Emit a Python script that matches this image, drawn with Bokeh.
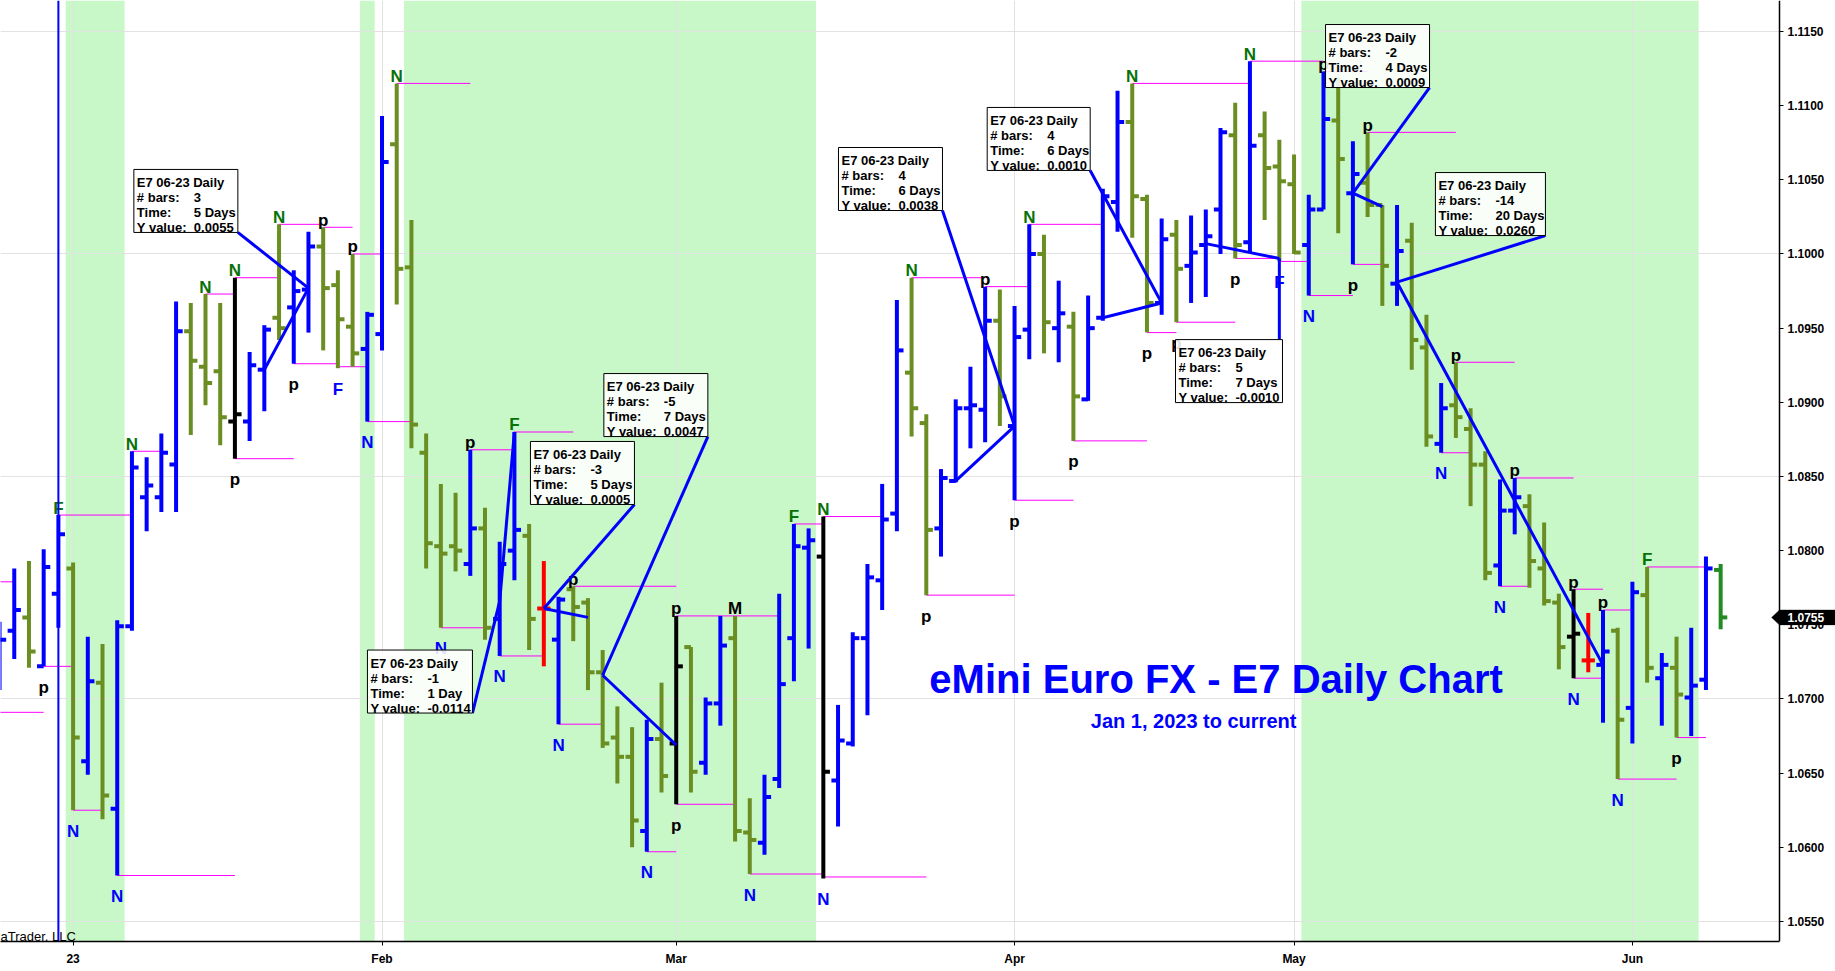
from bokeh.plotting import figure
from bokeh.models import (FixedTicker, Range1d, BoxAnnotation, Span, Label,
                          ColumnDataSource, PolyAnnotation, PrintfTickFormatter)
from bokeh.embed import file_html
from bokeh.resources import INLINE
from bokeh.core.properties import value

FONT = "Liberation Sans"

# ---------------- data (bar index 0 = Jan 3 2023, daily bars) ----------------
first_bar = -5
opens = [1.0728, 1.0746, 1.0755, 1.0722, 1.0771,
         1.0788, 1.0658, 1.0711, 1.0626, 1.0749, 1.0836, 1.0836, 1.0858, 1.0948, 1.0924,
         1.0921, 1.0887, 1.0887, 1.0922, 1.0957, 1.0964, 1.0976, 1.1005, 1.0979, 1.0951,
         1.0936, 1.0946, 1.1074, 1.0991, 1.0866, 1.0803, 1.0803, 1.0791, 1.0815, 1.0754,
         1.0800, 1.0810, 1.0761, 1.0740, 1.0774, 1.0765, 1.0718, 1.0674, 1.0661, 1.0611,
         1.0673, 1.0670, 1.0735, 1.0657, 1.0697, 1.0741, 1.0610, 1.0603, 1.0646, 1.0741,
         1.0802, 1.0796, 1.0645, 1.0670, 1.0741, 1.0780, 1.0825, 1.0920, 1.0886, 1.0815,
         1.0847, 1.0896, 1.0895, 1.0955, 1.0884, 1.0949, 1.1000, 1.0950, 1.0951, 1.0902,
         1.0957, 1.1035, 1.1089, 1.1037, 1.0967, 1.1013, 1.0992, 1.1006, 1.1030, 1.1080,
         1.1008, 1.1080, 1.1059, 1.1047, 1.1006, 1.1030, 1.1090, 1.1041, 1.1048, 1.1033,
         1.0980, 1.1009, 1.0937, 1.0872, 1.0898, 1.0882, 1.0858, 1.0790, 1.0827, 1.0830,
         1.0788, 1.0765, 1.0742, 1.0726, 1.0723, 1.0746, 1.0694, 1.0770, 1.0714, 1.0721,
         1.0701, 1.0713, 1.0787]
highs = [1.0752, 1.0788, 1.0793, 1.0801, 1.0824,
         1.0792, 1.0742, 1.0737, 1.0753, 1.0867, 1.0863, 1.0879, 1.0968, 1.0967, 1.0973,
         1.0967, 1.0984, 1.0934, 1.0952, 1.1020, 1.0989, 1.1015, 1.1018, 1.0989, 1.1000,
         1.0961, 1.1093, 1.1115, 1.1023, 1.0879, 1.0845, 1.0839, 1.0868, 1.0829, 1.0806,
         1.0880, 1.0818, 1.0793, 1.0769, 1.0776, 1.0768, 1.0733, 1.0695, 1.0681, 1.0686,
         1.0711, 1.0756, 1.0735, 1.0701, 1.0756, 1.0756, 1.0633, 1.0649, 1.0771, 1.0818,
         1.0815, 1.0823, 1.0696, 1.0745, 1.0791, 1.0845, 1.0969, 1.0984, 1.0892, 1.0855,
         1.0902, 1.0924, 1.0978, 1.0976, 1.0965, 1.1020, 1.1013, 1.0982, 1.0961, 1.0972,
         1.1044, 1.1110, 1.1115, 1.1040, 1.1024, 1.1023, 1.1026, 1.1030, 1.1085, 1.1102,
         1.1130, 1.1096, 1.1077, 1.1067, 1.1040, 1.1123, 1.1119, 1.1076, 1.1082, 1.1033,
         1.1033, 1.1021, 1.0959, 1.0913, 1.0927, 1.0896, 1.0867, 1.0848, 1.0849, 1.0838,
         1.0819, 1.0771, 1.0774, 1.0758, 1.0760, 1.0748, 1.0779, 1.0789, 1.0731, 1.0742,
         1.0748, 1.0796, 1.0791]
lows = [1.0706, 1.0727, 1.0721, 1.0722, 1.0748,
        1.0625, 1.0649, 1.0619, 1.0581, 1.0746, 1.0813, 1.0826, 1.0826, 1.0878, 1.0898,
        1.0871, 1.0862, 1.0874, 1.0894, 1.0942, 1.0926, 1.0947, 1.0935, 1.0923, 1.0924,
        1.0887, 1.0935, 1.0966, 1.0869, 1.0788, 1.0748, 1.0786, 1.0783, 1.0740, 1.0729,
        1.0780, 1.0733, 1.0722, 1.0683, 1.0739, 1.0706, 1.0667, 1.0643, 1.0600, 1.0597,
        1.0637, 1.0629, 1.0637, 1.0649, 1.0682, 1.0604, 1.0582, 1.0595, 1.0640, 1.0712,
        1.0734, 1.0579, 1.0614, 1.0668, 1.0689, 1.0760, 1.0813, 1.0877, 1.0770, 1.0796,
        1.0846, 1.0869, 1.0873, 1.0884, 1.0834, 1.0929, 1.0933, 1.0927, 1.0874, 1.0901,
        1.0955, 1.1015, 1.1011, 1.0947, 1.0959, 1.0954, 1.0967, 1.0971, 1.1000, 1.0997,
        1.1001, 1.1023, 1.0995, 1.1000, 1.0972, 1.1030, 1.1014, 1.0993, 1.1025, 1.0965,
        1.0965, 1.0922, 1.0870, 1.0866, 1.0876, 1.0830, 1.0780, 1.0776, 1.0811, 1.0775,
        1.0763, 1.0720, 1.0714, 1.0718, 1.0684, 1.0646, 1.0670, 1.0711, 1.0682, 1.0674,
        1.0675, 1.0706, 1.0747]
closes = [1.0740, 1.0760, 1.0732, 1.0789, 1.0811,
          1.0674, 1.0712, 1.0635, 1.0749, 1.0856, 1.0844, 1.0866, 1.0948, 1.0928, 1.0913,
          1.0890, 1.0892, 1.0925, 1.0949, 1.0950, 1.0975, 1.1005, 1.0977, 1.0956, 1.0933,
          1.0959, 1.1062, 1.0990, 1.0885, 1.0805, 1.0798, 1.0800, 1.0815, 1.0748, 1.0791,
          1.0814, 1.0754, 1.0761, 1.0767, 1.0762, 1.0718, 1.0670, 1.0661, 1.0618, 1.0673,
          1.0648, 1.0722, 1.0651, 1.0697, 1.0736, 1.0611, 1.0605, 1.0634, 1.0710, 1.0803,
          1.0807, 1.0651, 1.0672, 1.0741, 1.0782, 1.0821, 1.0935, 1.0896, 1.0814, 1.0849,
          1.0896, 1.0898, 1.0955, 1.0904, 1.0944, 1.1000, 1.0954, 1.0960, 1.0904, 1.0950,
          1.1039, 1.1089, 1.1039, 1.0967, 1.1010, 1.0990, 1.1001, 1.1012, 1.1082, 1.1006,
          1.1073, 1.1058, 1.1049, 1.1001, 1.1030, 1.1091, 1.1064, 1.1054, 1.1033, 1.0992,
          1.1002, 1.0942, 1.0877, 1.0896, 1.0890, 1.0858, 1.0785, 1.0827, 1.0836, 1.0793,
          1.0766, 1.0735, 1.0744, 1.0726, 1.0732, 1.0686, 1.0772, 1.0721, 1.0723, 1.0703,
          1.0709, 1.0788, 1.0755]
black_bars = [11, 41, 51, 102]
red_bars = [32, 103]
last_price = 1.0755

tick_idx = [0, 21, 41, 64, 83, 106]
tick_lbl = ["23", "Feb", "Mar", "Apr", "May", "Jun"]
price_ticks = [1.0550, 1.0600, 1.0650, 1.0700, 1.0750, 1.0800, 1.0850,
               1.0900, 1.0950, 1.1000, 1.1050, 1.1100, 1.1150]
grid_prices = [1.0550, 1.0700, 1.0850, 1.1000, 1.1150]

shade_start = [-0.5, 19.5, 22.5, 83.5]
shade_end = [3.5, 20.5, 50.5, 110.5]
marker_line_bar = -1

# swing lines: start bar, end bar, price
swing_start = [-6, -6, -2, -1, 0, 3, 4, 9, 11, 11, 14, 17, 15, 18, 19, 20, 22, 25, 27, 29,
               30, 33, 34, 39, 41, 41, 46, 49, 51, 51, 57, 58, 62, 64, 65, 68, 72, 73, 75,
               79, 80, 82, 84, 85, 87, 88, 93, 94, 97, 98, 102, 102, 104, 105, 107, 109]
swing_end = [-4, -2, 0, 4, 2, 11, 6, 11, 14, 15, 17, 19, 18, 20, 21, 23, 27, 28, 30, 32,
             34, 36, 41, 41, 48, 45, 51, 51, 55, 58, 62, 64, 65, 68, 70, 73, 80, 75, 79,
             82, 85, 84, 87, 88, 89, 94, 95, 98, 99, 102, 104, 104, 106, 109, 111, 111]
swing_price = [1.0779, 1.0691, 1.0722, 1.0824, 1.0625, 1.0581, 1.0867, 1.0973, 1.0984,
               1.0862, 1.1020, 1.1018, 1.0926, 1.0924, 1.1000, 1.0887, 1.1115, 1.0748,
               1.0868, 1.0729, 1.0880, 1.0683, 1.0776, 1.0597, 1.0756, 1.0629, 1.0582,
               1.0818, 1.0823, 1.0580, 1.0984, 1.0770, 1.0978, 1.0834, 1.1020, 1.0874,
               1.1115, 1.0947, 1.0954, 1.0997, 1.1130, 1.0995, 1.0972, 1.1123, 1.0993,
               1.1082, 1.0866, 1.0927, 1.0776, 1.0849, 1.0774, 1.0714, 1.0760, 1.0646,
               1.0789, 1.0674]

above_bar = [-1, 4, 9, 11, 14, 17, 19, 22, 27, 30, 34, 41, 45, 49, 51, 57, 62, 65, 72,
             80, 85, 88, 94, 98, 102, 104, 107]
above_txt = ["F", "N", "N", "N", "N", "p", "p", "N", "p", "F", "p", "p", "M", "F", "N",
             "N", "p", "N", "N", "N", "p", "p", "p", "p", "p", "p", "F"]
below_bar = [-2, 0, 3, 11, 15, 18, 20, 25, 29, 33, 39, 41, 46, 51, 58, 64, 68, 73, 75,
             79, 82, 84, 87, 93, 97, 102, 105, 109]
below_txt = ["p", "N", "N", "p", "p", "F", "N", "N", "N", "N", "N", "p", "N", "N", "p",
             "p", "p", "p", "p", "p", "F", "N", "p", "N", "N", "N", "N", "p"]

meas_a_bar = [13, 30, 35, 41, 60, 70, 77, 89, 104]
meas_a_px = [1.0922, 1.0880, 1.0755, 1.0669, 1.0847, 1.0957, 1.1007, 1.1032, 1.0723]
meas_b_bar = [16, 29, 32, 36, 64, 74, 82, 87, 90]
meas_b_px = [1.0977, 1.0766, 1.0761, 1.0716, 1.0884, 1.0967, 1.0997, 1.1041, 1.0981]
meas_bars = ["3", "-1", "-3", "-5", "4", "4", "5", "-2", "-14"]
meas_time = ["5 Days", "1 Day", "5 Days", "7 Days", "6 Days", "6 Days", "7 Days",
             "4 Days", "20 Days"]
meas_yval = ["0.0055", "-0.0114", "0.0005", "0.0047", "0.0038", "0.0010", "-0.0010",
             "0.0009", "0.0260"]
box_left = [4.13, 20.01, 31.09, 36.08, 52.03, 62.14, 74.94, 85.14, 92.61]
box_top = [1.10570, 1.07330, 1.08736, 1.09194, 1.10718, 1.10988, 1.09423, 1.11547, 1.10549]
box_hdr = "E7 06-23 Daily"

title_text = "eMini Euro FX - E7 Daily Chart"
subtitle_text = "Jan 1, 2023 to current"
credit_text = "aTrader, LLC"

# ---------------- styles / layout ----------------
BLUE = "#0000FF"
OLIVE = "#6B8E23"
DKGREEN = "#077207"
MAGENTA = "#FF00FF"
SHADE = "#C8F7C8"
GRID = "#E2E2E2"

PLOT_W, FH, TOTAL_W = 1779, 941, 1835
x0, x_axis = -4.935, 116.0          # left edge bar index, price-axis position
y0, y1 = 1.05365, 1.11709
PXX = PLOT_W / (x_axis - x0)
PXY = FH / (y1 - y0)
x1 = x0 + TOTAL_W / PXX              # frame spans the price-axis strip too
box_wpx = [104, 105, 104, 104, 104, 103, 107, 104, 110]
box_corner = ["br", "br", "br", "br", "br", "br", "t", "br", "br"]
BOX_H = 63

p = figure(frame_width=TOTAL_W, frame_height=FH, x_range=Range1d(x0, x1),
           y_range=Range1d(y0, y1), y_axis_location="right",
           output_backend="svg", toolbar_location=None,
           min_border_left=0, min_border_top=0, min_border_right=0,
           min_border_bottom=30, outline_line_color=None,
           background_fill_color="white")

# axes
for ax in (p.yaxis[0], p.xaxis[0]):
    ax.axis_line_color = "black"
    ax.axis_line_width = 1.5
    ax.major_tick_in = 0
    ax.major_tick_out = 4
    ax.minor_tick_in = 0
    ax.minor_tick_out = 0
    ax.major_tick_line_color = "black"
    ax.major_label_text_font = FONT
    ax.major_label_text_font_style = "bold"
    ax.major_label_text_font_size = "12px"
    ax.major_label_text_color = "black"
    ax.major_label_standoff = 4
p.yaxis.ticker = FixedTicker(ticks=price_ticks)
p.yaxis.formatter = PrintfTickFormatter(format="%.4f")
p.yaxis.fixed_location = x_axis
p.xaxis.ticker = FixedTicker(ticks=tick_idx)
p.xaxis.major_label_overrides = {t: l for t, l in zip(tick_idx, tick_lbl)}
p.xaxis.major_label_standoff = 6
p.xaxis.bounds = (x0, x_axis)
p.ygrid.ticker = FixedTicker(ticks=grid_prices)
p.xgrid.ticker = FixedTicker(ticks=tick_idx)
p.grid.grid_line_color = GRID
p.grid.grid_line_width = 1

# shaded periods
for s, e in zip(shade_start, shade_end):
    p.add_layout(BoxAnnotation(left=s, right=e, fill_color=SHADE, fill_alpha=1.0,
                               line_color=None, level="image"))
# blank strip behind the price scale
p.add_layout(BoxAnnotation(left=x_axis, fill_color="white", fill_alpha=1.0,
                           line_color=None, level="glyph"))

p.add_layout(Span(location=marker_line_bar, dimension="height", line_color=BLUE,
                  line_width=2))

# swing lines
p.segment(x0=swing_start, y0=swing_price, x1=swing_end, y1=swing_price,
          line_color=MAGENTA, line_width=1)

# OHLC bars
n = len(opens)
xs = [first_bar + k for k in range(n)]
cols = []
for k, xi in enumerate(xs):
    if k == n - 1:
        cols.append("#228B22")
    elif xi in black_bars:
        cols.append("black")
    elif xi in red_bars:
        cols.append("red")
    elif closes[k] >= opens[k]:
        cols.append(BLUE)
    else:
        cols.append(OLIVE)
TW = 0.45
src = ColumnDataSource(dict(x=xs, xl=[v - TW for v in xs], xr=[v + TW for v in xs],
                            o=opens, h=highs, l=lows, c=closes, col=cols))
p.segment(x0="x", y0="l", x1="x", y1="h", line_color="col", line_width=4, source=src)
p.segment(x0="xl", y0="o", x1="x", y1="o", line_color="col", line_width=4, source=src)
p.segment(x0="x", y0="c", x1="xr", y1="c", line_color="col", line_width=4, source=src)

# swing letters
hi_of = {x: h for x, h in zip(xs, highs)}
lo_of = {x: l for x, l in zip(xs, lows)}
a_col = [DKGREEN if t in ("N", "F") else "black" for t in above_txt]
b_col = [BLUE if t in ("N", "F") else "black" for t in below_txt]
p.text(x=above_bar, y=[hi_of[b] for b in above_bar], text=above_txt, text_color=a_col,
       text_font=value(FONT), text_font_style="bold", text_font_size="17px",
       text_align="center", text_baseline="alphabetic", y_offset=-7)
p.text(x=below_bar, y=[lo_of[b] for b in below_bar], text=below_txt, text_color=b_col,
       text_font=value(FONT), text_font_style="bold", text_font_size="17px",
       text_align="center", text_baseline="alphabetic", y_offset=21)

# measurement lines, leaders and boxes
lead_x, lead_y = [], []
bl, br, bt, bb = [], [], [], []
for k in range(len(meas_a_bar)):
    L = box_left[k]
    R = L + box_wpx[k] / PXX
    T = box_top[k]
    B = T - BOX_H / PXY
    bl.append(L); br.append(R); bt.append(T); bb.append(B)
    if box_corner[k] == "br":
        lead_x.append(R); lead_y.append(B)
    else:
        lead_x.append(meas_b_bar[k]); lead_y.append(T)
p.segment(x0=meas_a_bar, y0=meas_a_px, x1=meas_b_bar, y1=meas_b_px,
          line_color=BLUE, line_width=3)
p.segment(x0=meas_b_bar, y0=meas_b_px, x1=lead_x, y1=lead_y,
          line_color=BLUE, line_width=3)
p.quad(left=bl, right=br, top=bt, bottom=bb, fill_color="white", fill_alpha=0.88,
       line_color="black", line_width=1)

rows_lbl = [box_hdr, "# bars:", "Time:", "Y value:"]
tx, ty, tt, tyo = [], [], [], []
vx, vy, vt, vyo = [], [], [], []
for k in range(len(meas_a_bar)):
    for r, lab in enumerate(rows_lbl):
        tx.append(bl[k]); ty.append(bt[k]); tt.append(lab); tyo.append(13 + 15 * r)
    for r, val in enumerate([meas_bars[k], meas_time[k], meas_yval[k]]):
        vx.append(bl[k]); vy.append(bt[k]); vt.append(val); vyo.append(28 + 15 * r)
p.text(x=tx, y=ty, text=tt, x_offset=3, y_offset=tyo, text_font=value(FONT),
       text_font_size="13px", text_font_style="bold", text_color="black",
       text_baseline="alphabetic")
p.text(x=vx, y=vy, text=vt, x_offset=60, y_offset=vyo, text_font=value(FONT),
       text_font_size="13px", text_font_style="bold", text_color="black",
       text_baseline="alphabetic")

# titles
p.add_layout(Label(x=77.7, y=1.07136, text=title_text, text_align="center",
                   text_baseline="alphabetic", text_font=FONT, text_font_style="bold",
                   text_font_size="40px", text_color=BLUE))
p.add_layout(Label(x=76.17, y=1.06850, text=subtitle_text, text_align="center",
                   text_baseline="alphabetic", text_font=FONT, text_font_style="bold",
                   text_font_size="20px", text_color=BLUE))
p.add_layout(Label(x=x0, y=1.05399, x_offset=0, text=credit_text, text_align="left",
                   text_baseline="alphabetic", text_font=FONT, text_font_size="13px",
                   text_color="black"))

# last price marker (arrow tag on the price axis)
hh = 7.5 / PXY
p.add_layout(PolyAnnotation(
    xs=[x_axis - 8 / PXX, x_axis, x1, x1, x_axis],
    ys=[last_price, last_price + hh, last_price + hh, last_price - hh, last_price - hh],
    fill_color="black", fill_alpha=1, line_color="black", line_width=1))
p.add_layout(Label(x=x_axis, y=last_price, x_offset=8, text=f"{last_price:.4f}",
                   text_align="left", text_baseline="middle", text_font=FONT,
                   text_font_style="bold", text_font_size="12px", text_color="white"))

open("out.html", "w").write(file_html(p, INLINE))
